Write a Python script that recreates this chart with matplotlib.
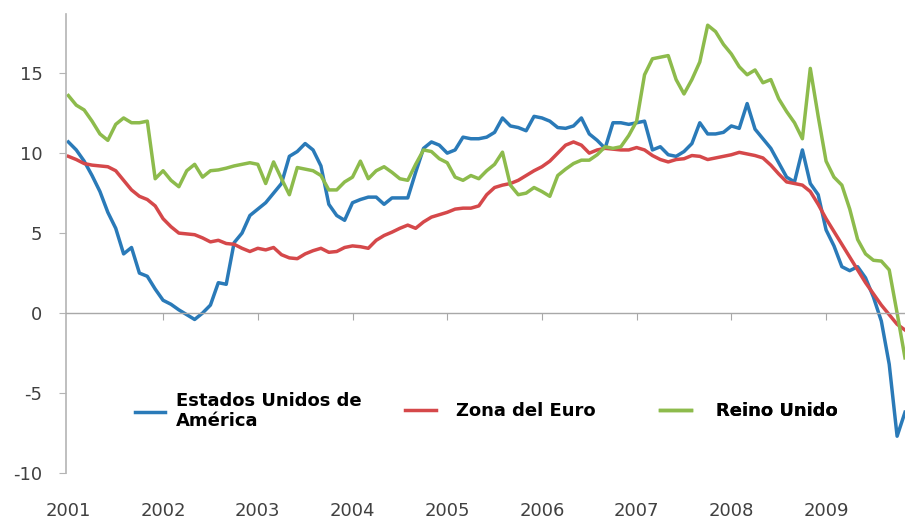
import numpy as np
from matplotlib import pyplot as plt

plt.rcParams["axes.unicode_minus"] = False


# Monthly data, Jan 2001 - Nov 2009
usa = [10.7, 10.2, 9.5, 8.6, 7.6, 6.3, 5.3, 3.7, 4.1, 2.5, 2.3, 1.5,
       0.8, 0.55, 0.2, -0.1, -0.4, 0.0, 0.5, 1.9, 1.8, 4.4, 5.0, 6.1,
       6.5, 6.9, 7.5, 8.1, 9.8, 10.1, 10.6, 10.2, 9.2, 6.8, 6.1, 5.8,
       6.9, 7.1, 7.25, 7.25, 6.8, 7.2, 7.2, 7.2, 8.8, 10.3, 10.7, 10.5,
       10.0, 10.2, 11.0, 10.9, 10.9, 11.0, 11.3, 12.2, 11.7, 11.6, 11.4, 12.3,
       12.2, 12.0, 11.6, 11.55, 11.7, 12.2, 11.2, 10.8, 10.3, 11.9, 11.9, 11.8,
       11.9, 12.0, 10.2, 10.4, 9.9, 9.8, 10.1, 10.6, 11.9, 11.2, 11.2, 11.3,
       11.7, 11.55, 13.1, 11.5, 10.9, 10.3, 9.4, 8.5, 8.2, 10.2, 8.1, 7.4,
       5.2, 4.2, 2.9, 2.65, 2.9, 2.2, 1.0, -0.5, -3.2, -7.7, -6.2]

euro = [9.8, 9.6, 9.35, 9.25, 9.2, 9.15, 8.9, 8.3, 7.7, 7.3, 7.1, 6.7,
        5.9, 5.4, 5.0, 4.95, 4.9, 4.7, 4.45, 4.55, 4.35, 4.3, 4.05, 3.85,
        4.05, 3.95, 4.1, 3.65, 3.45, 3.4, 3.7, 3.9, 4.05, 3.8, 3.85, 4.1,
        4.2, 4.15, 4.05, 4.55, 4.85, 5.06, 5.3, 5.5, 5.3, 5.7, 6.0, 6.15,
        6.3, 6.5, 6.56, 6.56, 6.7, 7.4, 7.85, 8.0, 8.1, 8.3, 8.6, 8.9,
        9.15, 9.5, 10.0, 10.5, 10.7, 10.5, 10.0, 10.2, 10.3, 10.25, 10.2, 10.2,
        10.35, 10.2, 9.85, 9.6, 9.45, 9.6, 9.65, 9.85, 9.8, 9.6, 9.7, 9.8,
        9.9, 10.05, 9.95, 9.85, 9.7, 9.25, 8.7, 8.2, 8.1, 8.0, 7.6, 6.8,
        5.9, 5.1, 4.3, 3.5, 2.7, 1.9, 1.2, 0.5, -0.1, -0.7, -1.06]

uk = [13.6, 13.0, 12.7, 12.0, 11.2, 10.8, 11.8, 12.2, 11.9, 11.9, 12.0, 8.4,
      8.9, 8.3, 7.9, 8.9, 9.3, 8.5, 8.9, 8.95, 9.06, 9.2, 9.3, 9.4,
      9.3, 8.1, 9.45, 8.4, 7.4, 9.1, 9.0, 8.9, 8.6, 7.7, 7.7, 8.2,
      8.5, 9.5, 8.4, 8.9, 9.15, 8.8, 8.4, 8.3, 9.3, 10.2, 10.1, 9.65,
      9.4, 8.5, 8.3, 8.6, 8.4, 8.9, 9.3, 10.06, 8.0, 7.4, 7.5, 7.85,
      7.6, 7.3, 8.6, 9.0, 9.35, 9.56, 9.56, 9.9, 10.4, 10.3, 10.4, 11.1,
      12.0, 14.9, 15.9, 16.0, 16.1, 14.6, 13.7, 14.6, 15.7, 18.0, 17.6, 16.8,
      16.2, 15.4, 14.9, 15.2, 14.4, 14.6, 13.4, 12.6, 11.9, 10.9, 15.3, 12.3,
      9.5, 8.5, 8.0, 6.5, 4.6, 3.7, 3.3, 3.25, 2.7, 0.0, -2.8]

years = ["2001", "2002", "2003", "2004", "2005", "2006", "2007", "2008", "2009"]
labels = ["Estados Unidos de\nAmérica", "Zona del Euro", "Reino Unido"]

months = np.arange(len(usa))
year_pos = np.arange(len(years)) * 12


# Plotting data
fig = plt.figure(figsize=(9.05, 5.22), dpi=100)
ax = fig.add_axes([66 / 905, 49 / 522, 839 / 905, 459 / 522])

l1, = ax.plot(months, usa, color="#2a7ab8", lw=2.5, label=labels[0])
l2, = ax.plot(months, euro, color="#d5484a", lw=2.5, label=labels[1])
l3, = ax.plot(months, uk, color="#8dbb4c", lw=2.5, label=labels[2])

ax.set_xlim(-0.3, 106)
ax.set_ylim(-10, 18.7)

for s in ["top", "right"]:
    ax.spines[s].set_visible(False)
ax.spines["left"].set_color("#b4b4b4")
ax.spines["left"].set_linewidth(1.2)
ax.spines["bottom"].set_position(("data", 0))
ax.spines["bottom"].set_color("#a8a8a8")
ax.spines["bottom"].set_linewidth(1.0)

ax.set_yticks([-10, -5, 0, 5, 10, 15])
ax.tick_params(axis="y", length=5, color="#b4b4b4", pad=12,
               labelsize=13, labelcolor="#404040")
ax.set_xticks(year_pos[1:])
ax.tick_params(axis="x", length=5, color="#a8a8a8", labelbottom=False)

sec = ax.secondary_xaxis(0.0)
sec.set_xticks(year_pos, years)
sec.tick_params(length=0, pad=21, labelsize=13, labelcolor="#404040")
sec.spines["bottom"].set_visible(False)

# three legend entries placed separately
font = {"family": "DejaVu Sans", "weight": "bold", "size": 13}
for line, x0, tpad in [(l1, 0.082, 0.6), (l2, 0.404, 1.15), (l3, 0.708, 1.4)]:
    leg = ax.legend(handles=[line], loc="center left", bbox_to_anchor=(x0, 0.135),
                    frameon=False, prop=font, handlelength=1.7, handletextpad=tpad,
                    borderpad=0, borderaxespad=0)
    ax.add_artist(leg)

plt.savefig("out.png")
